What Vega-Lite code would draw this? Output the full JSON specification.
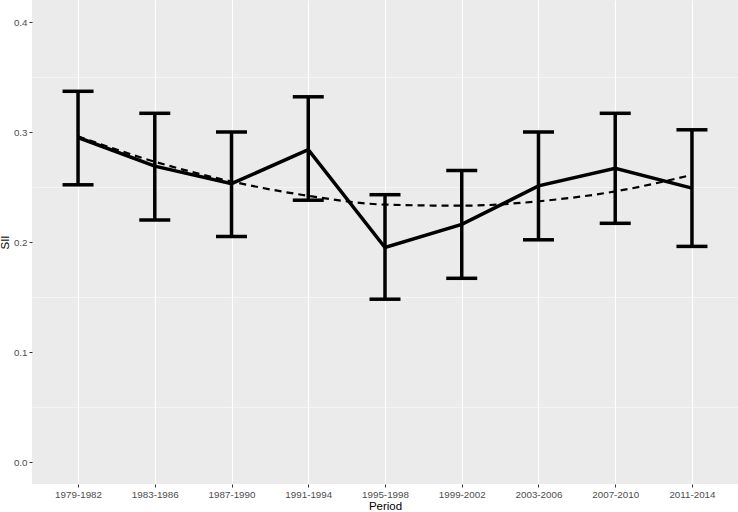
{
  "$schema": "https://vega.github.io/schema/vega-lite/v6.json",
  "width": 706,
  "height": 484,
  "autosize": "none",
  "padding": {"left": 32, "top": 0, "right": 0, "bottom": 28},
  "background": "white",
  "config": {
    "view": {"fill": "#EBEBEB", "stroke": null},
    "font": "Liberation Sans",
    "axis": {
      "gridColor": "white",
      "gridWidth": 1.1,
      "domain": false,
      "tickColor": "#333333",
      "tickSize": 3,
      "tickWidth": 1,
      "labelColor": "#4D4D4D",
      "labelFontSize": 9.8,
      "labelFont": "Liberation Sans",
      "titleFont": "Liberation Sans",
      "titleFontSize": 11.5,
      "titleFontWeight": "normal",
      "titleColor": "black",
      "labelPadding": 2
    }
  },
  "data": {
    "values": [
      {"period": "1979-1982", "sii": 0.295, "lower": 0.252, "upper": 0.337, "fit": 0.296},
      {"period": "1983-1986", "sii": 0.269, "lower": 0.220, "upper": 0.317, "fit": 0.273},
      {"period": "1987-1990", "sii": 0.253, "lower": 0.205, "upper": 0.300, "fit": 0.255},
      {"period": "1991-1994", "sii": 0.284, "lower": 0.238, "upper": 0.332, "fit": 0.242},
      {"period": "1995-1998", "sii": 0.195, "lower": 0.148, "upper": 0.243, "fit": 0.234},
      {"period": "1999-2002", "sii": 0.216, "lower": 0.167, "upper": 0.265, "fit": 0.233},
      {"period": "2003-2006", "sii": 0.251, "lower": 0.202, "upper": 0.300, "fit": 0.237},
      {"period": "2007-2010", "sii": 0.267, "lower": 0.217, "upper": 0.317, "fit": 0.246},
      {"period": "2011-2014", "sii": 0.249, "lower": 0.196, "upper": 0.302, "fit": 0.261}
    ]
  },
  "resolve": {"axis": {"y": "independent"}},
  "layer": [
    {
      "mark": {"type": "rule", "opacity": 0},
      "encoding": {
        "y": {
          "field": "sii", "type": "quantitative",
          "scale": {"domain": [-0.02, 0.42], "nice": false, "zero": false},
          "axis": {"orient": "right", "values": [0.05, 0.15, 0.25, 0.35], "labels": false, "ticks": false, "title": null, "gridWidth": 0.5, "domain": false}
        }
      }
    },
    {
      "mark": {"type": "rule", "color": "black", "strokeWidth": 3.5},
      "encoding": {
        "x": {
          "field": "period", "type": "ordinal",
          "scale": {"type": "point", "padding": 0.6},
          "axis": {"title": "Period", "labelAngle": 0, "titlePadding": 2, "grid": true}
        },
        "y": {
          "field": "lower", "type": "quantitative",
          "scale": {"domain": [-0.02, 0.42], "nice": false, "zero": false},
          "axis": {"orient": "left", "title": "SII", "values": [0, 0.1, 0.2, 0.3, 0.4], "format": ".1f", "titlePadding": 3}
        },
        "y2": {"field": "upper"}
      }
    },
    {
      "mark": {"type": "tick", "color": "black", "size": 31, "thickness": 3.5, "orient": "horizontal", "opacity": 1},
      "encoding": {
        "x": {"field": "period", "type": "ordinal"},
        "y": {"field": "lower", "type": "quantitative", "axis": null}
      }
    },
    {
      "mark": {"type": "tick", "color": "black", "size": 31, "thickness": 3.5, "orient": "horizontal", "opacity": 1},
      "encoding": {
        "x": {"field": "period", "type": "ordinal"},
        "y": {"field": "upper", "type": "quantitative", "axis": null}
      }
    },
    {
      "mark": {"type": "line", "color": "black", "strokeWidth": 3.5},
      "encoding": {
        "x": {"field": "period", "type": "ordinal"},
        "y": {"field": "sii", "type": "quantitative", "axis": null}
      }
    },
    {
      "mark": {"type": "line", "color": "black", "strokeWidth": 2.2, "strokeDash": [7, 5], "interpolate": "monotone"},
      "encoding": {
        "x": {"field": "period", "type": "ordinal"},
        "y": {"field": "fit", "type": "quantitative", "axis": null}
      }
    }
  ]
}
